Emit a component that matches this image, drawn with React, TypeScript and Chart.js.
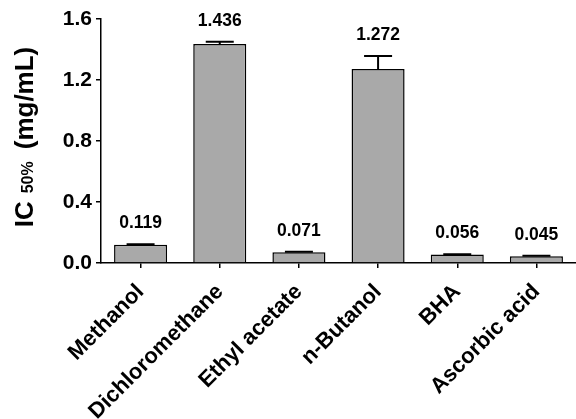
import React, { useEffect, useRef } from 'react';
import { Chart, registerables } from 'chart.js';

Chart.register(...registerables);

const categories = ['Methanol', 'Dichloromethane', 'Ethyl acetate', 'n-Butanol', 'BHA', 'Ascorbic acid'];
const ic50Values = [0.119, 1.436, 0.071, 1.272, 0.056, 0.045];
const errorValues = [0.004, 0.015, 0.003, 0.085, 0.001, 0.003];
const valueLabels = ['0.119', '1.436', '0.071', '1.272', '0.056', '0.045'];
const yMin = 0;
const yMax = 1.6;
const yStep = 0.4;
const titleMain = 'IC';
const titleSub = '50%';
const titleUnit = '(mg/mL)';

const FONT = '"Liberation Sans", Arial, Helvetica, sans-serif';

const errorBarPlugin = {
  id: 'errorBarsAndLabels',
  afterDatasetsDraw(chart: any) {
    const ctx = chart.ctx;
    const meta = chart.getDatasetMeta(0);
    const yScale = chart.scales.y;
    ctx.save();
    meta.data.forEach((bar: any, i: number) => {
      const x = bar.x;
      const base = yScale.getPixelForValue(ic50Values[i]);
      const top = yScale.getPixelForValue(ic50Values[i] + errorValues[i]);
      ctx.strokeStyle = '#000';
      ctx.lineWidth = 2;
      ctx.beginPath();
      ctx.moveTo(x, base);
      ctx.lineTo(x, top);
      ctx.moveTo(x - 14, top);
      ctx.lineTo(x + 14, top);
      ctx.stroke();
      ctx.fillStyle = '#000';
      ctx.font = `bold 17.5px ${FONT}`;
      ctx.textAlign = 'center';
      ctx.textBaseline = 'middle';
      ctx.fillText(valueLabels[i], x, top - 21);
    });
    ctx.restore();
  },
};

const yTitlePlugin = {
  id: 'yTitle',
  afterDraw(chart: any) {
    const ctx = chart.ctx;
    const area = chart.chartArea;
    const cy = (area.top + area.bottom) / 2 - 4;
    const bx = area.left - 68;
    ctx.save();
    ctx.translate(bx, cy);
    ctx.rotate(-Math.PI / 2);
    ctx.fillStyle = '#000';
    ctx.textBaseline = 'alphabetic';
    ctx.textAlign = 'left';
    const big = `bold 26px ${FONT}`;
    const small = `bold 16px ${FONT}`;
    ctx.font = big;
    const w1 = ctx.measureText(titleMain).width;
    const w3 = ctx.measureText(titleUnit).width;
    ctx.font = small;
    const w2 = ctx.measureText(titleSub).width;
    const gap1 = 8;
    const gap2 = 12;
    const total = w1 + gap1 + w2 + gap2 + w3;
    let x = -total / 2;
    ctx.font = big;
    ctx.fillText(titleMain, x, 0);
    x += w1 + gap1;
    ctx.font = small;
    ctx.fillText(titleSub, x, 0);
    x += w2 + gap2;
    ctx.font = big;
    ctx.fillText(titleUnit, x, 0);
    ctx.restore();
  },
};

export default function App() {
  const canvasRef = useRef<HTMLCanvasElement | null>(null);

  useEffect(() => {
    document.body.style.margin = '0';
    const canvas = canvasRef.current;
    if (!canvas) return;
    const chart = new Chart(canvas, {
      type: 'bar',
      data: {
        labels: categories,
        datasets: [
          {
            data: ic50Values,
            backgroundColor: '#a9a9a9',
            borderColor: '#000',
            borderWidth: 1.5,
            categoryPercentage: 1,
            barPercentage: 0.67,
          },
        ],
      },
      options: {
        responsive: false,
        animation: false,
        devicePixelRatio: 1,
        layout: { padding: { top: 19, right: 0, bottom: 0, left: 0 } },
        plugins: {
          legend: { display: false },
          tooltip: { enabled: false },
          title: { display: false },
        },
        scales: {
          x: {
            grid: {
              display: true,
              drawOnChartArea: false,
              drawTicks: true,
              tickLength: 5,
              color: '#000',
              lineWidth: 1.5,
              offset: false,
            },
            border: { display: true, color: '#000', width: 1.5 },
            ticks: {
              color: '#000',
              font: { family: FONT, size: 22, weight: 'bold' },
              minRotation: 45,
              maxRotation: 45,
              autoSkip: false,
              padding: 11,
            },
            afterFit(scale: any) {
              scale.height = 156;
              scale.paddingRight = 0;
            },
          },
          y: {
            min: yMin,
            max: yMax,
            grid: {
              display: true,
              drawOnChartArea: false,
              drawTicks: true,
              tickLength: 5,
              color: '#000',
              lineWidth: 1.5,
            },
            border: { display: true, color: '#000', width: 1.5 },
            ticks: {
              stepSize: yStep,
              color: '#000',
              font: { family: FONT, size: 21, weight: 'bold' },
              padding: 4,
              callback: (v: any) => Number(v).toFixed(1),
            },
            afterFit(scale: any) {
              scale.width = 101;
            },
          },
        },
      },
      plugins: [errorBarPlugin, yTitlePlugin],
    });
    return () => chart.destroy();
  }, []);

  return (
    <div style={{ width: 576, height: 419, position: 'relative' }}>
      <canvas ref={canvasRef} width={576} height={419} />
    </div>
  );
}
